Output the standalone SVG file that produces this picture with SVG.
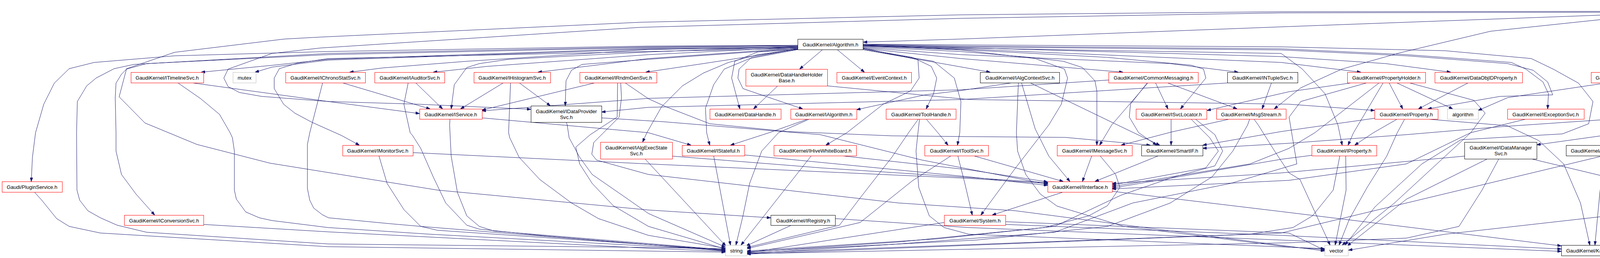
<svg xmlns="http://www.w3.org/2000/svg" width="4949" height="661" viewBox="0 0 4949 661">
<defs>
<marker id="arr" markerWidth="10" markerHeight="7" refX="10" refY="3.5" orient="auto" markerUnits="userSpaceOnUse"><path d="M0,0 L10,3.5 L0,7 z" fill="#191970" stroke="#191970" stroke-width="1"/></marker>
<style>
text{font-family:"Liberation Sans",Arial,Helvetica,sans-serif;font-size:13.1px;fill:#000}
.node rect{fill:#fff;stroke-width:1}
.red rect{stroke:#ff0000}
.blk rect{stroke:#000}
.gry rect{stroke:#bfbfbf}
.root rect{fill:#bfbfbf;stroke:#000}
.node text{text-anchor:middle}
.root text{text-anchor:start}
#edges path{fill:none;stroke:#191970;stroke-width:1;stroke-linejoin:round;marker-end:url(#arr)}
</style>
</defs>
<rect width="4949" height="661" fill="#fff"/>
<g id="edges">
<path d="M4263,34 L4120,38 L3300,68 L2460,100 L2210,108"/>
<path d="M4263,29 L3280,30 L2460,38 L1640,57 L820,95 L728,100 L447,134 L324,176 L305,248 L371,315 L504,370 L691,418 L1120,487 L1660,538 L1973,558"/>
<path d="M4263,31 L3280,33 L2460,47 L1640,70 L820,123 L696,137 L584,177 L573,200 L584,222 L613,237 L670,247 L840,260 L1072,267 L1359,280"/>
<path d="M4263,36 L4100,50 L3816,80 L3585,135 L3435,177 L3330,225 L3262,279"/>
<path d="M4344,49 L4290,110 L4196,185"/>
<path d="M4462,49 L4689,100"/>
<path d="M4469,41 L4861,100"/>
<path d="M4373,49 L4384,200 L4357,283 L4333,315 L4156,340 L3934,371"/>
<path d="M4380,49 L4400,150 L4405,260 L4379,320 L4336,348 L4214,372"/>
<path d="M4395,49 L4432,93 L4456,187 L4451,233 L4424,340 L4404,372"/>
<path d="M4424,49 L4502,93 L4555,150 L4566,200 L4562,340 L4539,403 L4529,457"/>
<path d="M4469,45 L4566,87 L4609,140 L4657,233 L4683,340 L4686,372"/>
<path d="M4362,49 L4357,100 L4336,167 L4277,233 L4186,287 L4100,307 L3837,325 L3600,345 L3300,367 L3079,380"/>
<path d="M2042,121 L1660,124 L840,152 L700,167 L515,185"/>
<path d="M2042,122 L1660,126 L840,154 L696,172 L653,185"/>
<path d="M2042,120 L1660,127 L1195,157 L980,174 L895,185"/>
<path d="M2042,121 L1660,140 L1248,170 L1109,185"/>
<path d="M2042,123 L1660,150 L1517,168 L1377,185"/>
<path d="M2042,126 L1800,163 L1653,185"/>
<path d="M2042,116 L1660,118 L840,132 L447,143 L241,160 L177,176 L139,213 L112,267 L91,340 L83,403 L80,465"/>
<path d="M2042,117 L1660,120 L840,137 L343,165 L292,176 L246,200 L222,220 L198,260 L196,340 L197,487 L204,513 L225,540 L257,558 L300,577 L375,595 L840,625 L1660,634 L1857,637"/>
<path d="M2042,118 L1660,122 L840,140 L375,163 L324,177 L311,190 L297,213 L295,250 L297,340 L297,387 L311,447 L348,497 L396,551"/>
<path d="M2042,124 L1660,132 L840,150 L761,162 L715,176 L702,200 L702,227 L726,267 L755,290 L798,313 L874,347 L920,372"/>
<path d="M2042,119 L1660,133 L1302,152 L1227,163 L1195,173 L1163,217 L1155,279"/>
<path d="M2042,125 L1660,152 L1490,165 L1463,180 L1449,207 L1447,271"/>
<path d="M2106,127 L2047,177"/>
<path d="M2143,127 L2213,185"/>
<path d="M2042,127 L1940,133 L1881,157 L1873,200 L1894,279"/>
<path d="M2042,125 L1924,147 L1892,177 L1889,200 L1902,227 L1940,240 L2055,279"/>
<path d="M2042,126 L1940,140 L1865,160 L1801,187 L1747,220 L1694,273 L1656,340 L1645,364"/>
<path d="M2042,127 L1919,150 L1854,177 L1827,217 L1806,277 L1809,340 L1817,372"/>
<path d="M2209,123 L2350,153 L2353,200 L2331,233 L2261,267 L2168,340 L2114,372"/>
<path d="M2209,125 L2336,147 L2384,170 L2398,200 L2390,240 L2371,279"/>
<path d="M2209,127 L2390,157 L2443,200 L2460,260 L2457,340 L2451,372"/>
<path d="M2209,120 L2460,132 L2637,147 L2722,157 L2771,173 L2803,207 L2808,233 L2808,372"/>
<path d="M2209,118 L2460,128 L2650,150 L2725,177 L2733,200 L2717,267 L2685,320 L2600,430 L2511,551"/>
<path d="M2209,116 L2460,127 L2835,147 L3049,167 L3081,177 L3087,200 L3022,279"/>
<path d="M2209,127 L2480,175 L2535,185"/>
<path d="M2209,124 L2460,150 L2875,185"/>
<path d="M2209,122 L2460,140 L2996,163 L3170,185"/>
<path d="M2209,118 L2460,125 L3280,160 L3484,185"/>
<path d="M2209,116 L2460,122 L3280,145 L3548,163 L3714,185"/>
<path d="M2209,117 L2460,123 L3280,137 L3334,177 L3392,240 L3425,320 L3436,372"/>
<path d="M2209,114 L2460,118 L3280,125 L3601,140 L3869,160 L3906,177 L3950,210 L3964,240 L3962,279"/>
<path d="M2209,115 L2460,120 L3280,128 L3601,143 L3860,163 L3925,180 L3962,210 L3975,243 L3840,247 L3655,279"/>
<path d="M2209,113 L2460,115 L3280,120 L3700,130 L3920,150 L3976,177 L4041,213 L4078,260 L4067,317 L4000,343 L3740,358 L3640,420 L3520,530 L3443,628"/>
<path d="M490,212 L840,260 L1074,291"/>
<path d="M455,212 L514,253 L562,293 L589,340 L595,353 L600,387 L600,487 L605,510 L629,543 L664,558 L696,565 L840,583 L1100,600 L1857,641"/>
<path d="M876,212 L1101,279"/>
<path d="M826,212 L793,340 L787,370 L787,483 L793,513 L803,533 L825,550 L841,558 L997,573 L1077,580 L1300,598 L1857,642"/>
<path d="M1064,212 L1133,279"/>
<path d="M1045,212 L1034,267 L1050,340 L1056,347 L1077,380 L1109,453 L1141,520 L1195,577 L1227,587 L1400,605 L1857,643"/>
<path d="M1289,212 L1179,279"/>
<path d="M1329,212 L1409,271"/>
<path d="M1307,212 L1302,340 L1305,353 L1329,403 L1382,460 L1463,520 L1532,560 L1660,603 L1857,636"/>
<path d="M1524,212 L1234,282"/>
<path d="M1581,212 L1580,300 L1511,345 L1474,377 L1484,420 L1516,470 L1570,527 L1660,580 L1857,638"/>
<path d="M1600,212 L1660,253 L1704,273 L1817,317 L2015,337 L2283,348 L2480,350 L2727,352 L2945,372"/>
<path d="M1589,212 L1591,250 L1585,300 L1545,340 L1520,365 L1515,395 L1527,410 L1660,447 L2300,520 L2600,540 L3391,643"/>
<path d="M1234,302 L1660,340 L1769,372"/>
<path d="M1152,305 L1151,320 L1155,400 L1171,493 L1195,553 L1227,580 L1265,592 L1857,640"/>
<path d="M1450,313 L1452,320 L1457,353 L1484,403 L1516,447 L1597,503 L1660,547 L1857,633"/>
<path d="M1540,302 L1700,312 L2100,345 L2360,410 L2682,472"/>
<path d="M1991,220 L1929,279"/>
<path d="M2118,220 L2480,255 L3300,267 L3519,283"/>
<path d="M2068,305 L1969,340 L1870,372"/>
<path d="M2072,305 L1993,340 L1950,387 L1919,470 L1902,553 L1884,628"/>
<path d="M2371,305 L2401,340 L2427,372"/>
<path d="M2351,305 L2326,340 L2283,403 L2202,507 L2149,577 L1912,634"/>
<path d="M2354,305 L2350,340 L2345,387 L2352,480 L2379,553 L2417,583 L2480,600 L3391,637"/>
<path d="M2592,212 L2460,232 L2368,243 L2193,281"/>
<path d="M2615,212 L2650,330 L2685,400 L2739,465"/>
<path d="M2607,212 L2602,340 L2605,387 L2626,447 L2663,497 L2706,528 L2877,580 L3300,633 L3391,639"/>
<path d="M2637,212 L2850,315 L2969,372"/>
<path d="M2838,205 L2460,230 L1660,252 L1234,284"/>
<path d="M2939,212 L2846,320 L2815,372"/>
<path d="M2937,212 L2894,267 L2891,300 L2915,340 L2961,372"/>
<path d="M2958,212 L2990,279"/>
<path d="M2988,212 L3167,279"/>
<path d="M3151,212 L2460,255 L1660,275 L1540,287"/>
<path d="M3255,212 L3231,279"/>
<path d="M2998,305 L2998,372"/>
<path d="M3049,305 L3097,353 L3119,387 L3087,430 L2847,474"/>
<path d="M3060,305 L3110,345 L3130,387 L3110,425 L3000,455 L2870,500 L2700,580 L2400,612 L1912,643"/>
<path d="M3148,305 L3000,338 L2870,372"/>
<path d="M3199,305 L3194,320 L3156,387 L3103,453 L2996,520 L2835,580 L2500,615 L1912,645"/>
<path d="M3210,305 L3221,320 L3263,387 L3300,443 L3328,460 L3405,628"/>
<path d="M2795,399 L2771,465"/>
<path d="M2816,399 L2856,447 L2867,480 L2835,527 L2787,553 L2674,583 L2300,620 L1912,646"/>
<path d="M2966,399 L2803,465"/>
<path d="M2492,399 L2722,465"/>
<path d="M2452,399 L2470,470 L2489,551"/>
<path d="M2435,399 L2336,463 L2202,570 L1912,637"/>
<path d="M2722,492 L2540,551"/>
<path d="M2847,490 L3280,542 L3997,630"/>
<path d="M2417,570 L1912,648"/>
<path d="M2574,568 L3300,597 L3391,641"/>
<path d="M2574,575 L3280,603 L3997,638"/>
<path d="M2026,577 L1910,630"/>
<path d="M2138,560 L2480,583 L3280,615 L3997,644"/>
<path d="M88,492 L107,513 L145,560 L177,580 L257,597 L840,632 L1857,646"/>
<path d="M521,575 L840,594 L1660,636 L1857,644"/>
<path d="M1057,391 L1660,420 L2480,457 L2682,470"/>
<path d="M970,399 L991,470 L1034,537 L1077,580 L1120,590 L1857,640"/>
<path d="M1651,407 L1858,630"/>
<path d="M1721,400 L2100,430 L2682,468"/>
<path d="M1827,399 L1870,628"/>
<path d="M1906,397 L2480,453 L2682,475"/>
<path d="M2077,399 L1897,628"/>
<path d="M2154,399 L2480,435 L2682,466"/>
<path d="M3358,398 L3280,408 L2847,482"/>
<path d="M3430,399 L3413,487 L3360,553 L3310,583 L3200,600 L1912,648"/>
<path d="M3445,399 L3446,487 L3418,628"/>
<path d="M3577,305 L3516,340 L3468,372"/>
<path d="M3519,303 L3280,337 L3079,372"/>
<path d="M3596,305 L3577,340 L3550,400 L3500,480 L3455,560 L3428,628"/>
<path d="M3652,305 L3858,322 L3939,360 L4003,420 L4046,520 L4070,628"/>
<path d="M3759,212 L3631,279"/>
<path d="M3556,212 L3591,279"/>
<path d="M3575,212 L3719,279"/>
<path d="M3541,212 L3465,340 L3451,372"/>
<path d="M3462,212 L3300,235 L3090,283"/>
<path d="M3531,212 L3366,340 L3300,380 L3200,420 L2847,478"/>
<path d="M3607,212 L3773,257 L3802,290 L3765,340 L3700,400 L3570,520 L3436,628"/>
<path d="M3500,212 L3330,260 L3300,300 L3320,420 L3150,470 L2900,520 L2700,595 L2300,625 L1912,650"/>
<path d="M4226,212 L4346,253 L4400,287 L4448,320 L4486,348 L4515,420 L4515,457"/>
<path d="M4116,212 L3860,250 L3784,283"/>
<path d="M3907,305 L3765,340 L3600,420 L3300,462 L2847,484"/>
<path d="M3749,400 L3280,443 L2847,470"/>
<path d="M3808,407 L3601,510 L3449,630"/>
<path d="M3837,407 L3794,487 L3735,580 L3601,610 L3300,622 L1912,650"/>
<path d="M3920,407 L4120,455 L4132,465"/>
<path d="M4108,399 L4100,447 L4083,628"/>
<path d="M4124,399 L4170,465"/>
<path d="M4101,400 L3280,597 L1912,651"/>
<path d="M4357,399 L4304,427 L4223,465"/>
<path d="M4373,399 L4277,502 L4223,523 L4100,555 L3700,600 L3452,641"/>
<path d="M4381,399 L4352,487 L4261,580 L4116,628"/>
<path d="M4403,399 L4486,457"/>
<path d="M4620,399 L4266,470"/>
<path d="M4662,399 L4561,457"/>
<path d="M4684,399 L4646,470 L4566,540 L4475,560 L4271,610 L4147,637"/>
<path d="M4496,500 L4400,573 L4277,613 L4147,631"/>
<path d="M4178,492 L4120,580 L4106,628"/>
</g>
<g id="n_root" class="node root"><rect x="4263.5" y="7.5" width="206" height="42"/><text x="4273" y="25.5">GaudiCommonSvc/src</text><text x="4273" y="40.5">/DataSvc/StoreExplorerAlg.cpp</text></g>
<g id="n_algorithm_h" class="node blk"><rect x="2042.5" y="100.5" width="167" height="27"/><text x="2126" y="118.5">GaudiKernel/Algorithm.h</text></g>
<g id="n_smartdataptr" class="node red"><rect x="4653.5" y="100.5" width="191" height="27"/><text x="4749" y="118.5">GaudiKernel/SmartDataPtr.h</text></g>
<g id="n_numeric" class="node gry"><rect x="4867.5" y="100.5" width="69" height="27"/><text x="4902" y="118.5">numeric</text></g>
<g id="n_timeline" class="node red"><rect x="335.5" y="185.5" width="186" height="27"/><text x="428" y="203.5">GaudiKernel/ITimelineSvc.h</text></g>
<g id="n_mutex" class="node gry"><rect x="596.5" y="185.5" width="59" height="27"/><text x="626" y="203.5">mutex</text></g>
<g id="n_chrono" class="node red"><rect x="731.5" y="185.5" width="204" height="27"/><text x="833" y="203.5">GaudiKernel/IChronoStatSvc.h</text></g>
<g id="n_auditor" class="node red"><rect x="959.5" y="185.5" width="179" height="27"/><text x="1049" y="203.5">GaudiKernel/IAuditorSvc.h</text></g>
<g id="n_histo" class="node red"><rect x="1213.5" y="185.5" width="196" height="27"/><text x="1311" y="203.5">GaudiKernel/IHistogramSvc.h</text></g>
<g id="n_rndm" class="node red"><rect x="1484.5" y="185.5" width="197" height="27"/><text x="1583" y="203.5">GaudiKernel/IRndmGenSvc.h</text></g>
<g id="n_dhhb" class="node red"><rect x="1909.5" y="177.5" width="209" height="43"/><text x="2014" y="195.5">GaudiKernel/DataHandleHolder</text><text x="2014" y="210.5">Base.h</text></g>
<g id="n_evctx" class="node red"><rect x="2142.5" y="185.5" width="191" height="27"/><text x="2238" y="203.5">GaudiKernel/EventContext.h</text></g>
<g id="n_algctx" class="node blk"><rect x="2509.5" y="185.5" width="203" height="27"/><text x="2611" y="203.5">GaudiKernel/IAlgContextSvc.h</text></g>
<g id="n_commsg" class="node red"><rect x="2838.5" y="185.5" width="229" height="27"/><text x="2953" y="203.5">GaudiKernel/CommonMessaging.h</text></g>
<g id="n_ntuple" class="node blk"><rect x="3142.5" y="185.5" width="180" height="27"/><text x="3232" y="203.5">GaudiKernel/INTupleSvc.h</text></g>
<g id="n_propholder" class="node red"><rect x="3449.5" y="185.5" width="200" height="27"/><text x="3549" y="203.5">GaudiKernel/PropertyHolder.h</text></g>
<g id="n_dataobjid" class="node red"><rect x="3673.5" y="185.5" width="224" height="27"/><text x="3785" y="203.5">GaudiKernel/DataObjIDProperty.h</text></g>
<g id="n_keyed" class="node red"><rect x="4073.5" y="185.5" width="204" height="27"/><text x="4175" y="203.5">GaudiKernel/KeyedContainer.h</text></g>
<g id="n_iservice" class="node red"><rect x="1074.5" y="279.5" width="160" height="26"/><text x="1154" y="297.5">GaudiKernel/IService.h</text></g>
<g id="n_idataprov" class="node blk"><rect x="1359.5" y="271.5" width="181" height="42"/><text x="1450" y="289.5">GaudiKernel/IDataProvider</text><text x="1450" y="304.5">Svc.h</text></g>
<g id="n_datahandle" class="node red"><rect x="1817.5" y="279.5" width="182" height="26"/><text x="1908" y="297.5">GaudiKernel/DataHandle.h</text></g>
<g id="n_ialgorithm" class="node red"><rect x="2024.5" y="279.5" width="169" height="26"/><text x="2109" y="297.5">GaudiKernel/IAlgorithm.h</text></g>
<g id="n_toolhandle" class="node red"><rect x="2268.5" y="279.5" width="179" height="26"/><text x="2358" y="297.5">GaudiKernel/ToolHandle.h</text></g>
<g id="n_isvcloc" class="node red"><rect x="2908.5" y="279.5" width="181" height="26"/><text x="2999" y="297.5">GaudiKernel/ISvcLocator.h</text></g>
<g id="n_msgstream" class="node red"><rect x="3114.5" y="279.5" width="178" height="26"/><text x="3203" y="297.5">GaudiKernel/MsgStream.h</text></g>
<g id="n_property" class="node red"><rect x="3519.5" y="279.5" width="162" height="26"/><text x="3600" y="297.5">GaudiKernel/Property.h</text></g>
<g id="n_algorithm" class="node gry"><rect x="3705.5" y="279.5" width="79" height="26"/><text x="3745" y="297.5">algorithm</text></g>
<g id="n_iexception" class="node red"><rect x="3859.5" y="279.5" width="196" height="26"/><text x="3957" y="297.5">GaudiKernel/IExceptionSvc.h</text></g>
<g id="n_imonitor" class="node red"><rect x="877.5" y="372.5" width="180" height="27"/><text x="967" y="390.5">GaudiKernel/IMonitorSvc.h</text></g>
<g id="n_ialgexec" class="node red"><rect x="1537.5" y="364.5" width="184" height="43"/><text x="1629" y="382.5">GaudiKernel/IAlgExecState</text><text x="1629" y="397.5">Svc.h</text></g>
<g id="n_istateful" class="node red"><rect x="1746.5" y="372.5" width="160" height="27"/><text x="1826" y="390.5">GaudiKernel/IStateful.h</text></g>
<g id="n_ihive" class="node red"><rect x="1981.5" y="372.5" width="211" height="27"/><text x="2087" y="390.5">GaudiKernel/IHiveWhiteBoard.h</text></g>
<g id="n_itoolsvc" class="node red"><rect x="2367.5" y="372.5" width="163" height="27"/><text x="2449" y="390.5">GaudiKernel/IToolSvc.h</text></g>
<g id="n_imsgsvc" class="node red"><rect x="2706.5" y="372.5" width="192" height="27"/><text x="2802" y="390.5">GaudiKernel/IMessageSvc.h</text></g>
<g id="n_smartif" class="node blk"><rect x="2922.5" y="372.5" width="157" height="27"/><text x="3001" y="390.5">GaudiKernel/SmartIF.h</text></g>
<g id="n_iproperty" class="node red"><rect x="3358.5" y="372.5" width="166" height="27"/><text x="3441" y="390.5">GaudiKernel/IProperty.h</text></g>
<g id="n_idatamgr" class="node blk"><rect x="3749.5" y="364.5" width="185" height="43"/><text x="3842" y="382.5">GaudiKernel/IDataManager</text><text x="3842" y="397.5">Svc.h</text></g>
<g id="n_iopaque" class="node blk"><rect x="4009.5" y="372.5" width="209" height="27"/><text x="4114" y="390.5">GaudiKernel/IOpaqueAddress.h</text></g>
<g id="n_objvector" class="node red"><rect x="4292.5" y="372.5" width="186" height="27"/><text x="4385" y="390.5">GaudiKernel/ObjectVector.h</text></g>
<g id="n_objlist" class="node red"><rect x="4603.5" y="372.5" width="169" height="27"/><text x="4688" y="390.5">GaudiKernel/ObjectList.h</text></g>
<g id="n_plugin" class="node red"><rect x="5.5" y="465.5" width="154" height="27"/><text x="82" y="483.5">Gaudi/PluginService.h</text></g>
<g id="n_iinterface" class="node red"><rect x="2682.5" y="465.5" width="165" height="27"/><text x="2765" y="483.5">GaudiKernel/IInterface.h</text></g>
<g id="n_classid" class="node blk"><rect x="4110.5" y="465.5" width="156" height="27"/><text x="4188" y="483.5">GaudiKernel/ClassID.h</text></g>
<g id="n_objcontbase" class="node red"><rect x="4419.5" y="457.5" width="194" height="43"/><text x="4516" y="475.5">GaudiKernel/ObjectContainer</text><text x="4516" y="490.5">Base.h</text></g>
<g id="n_iconversion" class="node red"><rect x="318.5" y="551.5" width="203" height="26"/><text x="420" y="569.5">GaudiKernel/IConversionSvc.h</text></g>
<g id="n_iregistry" class="node blk"><rect x="1973.5" y="551.5" width="165" height="26"/><text x="2056" y="569.5">GaudiKernel/IRegistry.h</text></g>
<g id="n_system" class="node red"><rect x="2417.5" y="551.5" width="157" height="26"/><text x="2496" y="569.5">GaudiKernel/System.h</text></g>
<g id="n_string" class="node gry"><rect x="1857.5" y="628.5" width="55" height="27"/><text x="1885" y="646.5">string</text></g>
<g id="n_vector" class="node gry"><rect x="3391.5" y="628.5" width="60" height="27"/><text x="3421" y="646.5">vector</text></g>
<g id="n_kernel" class="node blk"><rect x="3997.5" y="628.5" width="150" height="27"/><text x="4072" y="646.5">GaudiKernel/Kernel.h</text></g>
</svg>
